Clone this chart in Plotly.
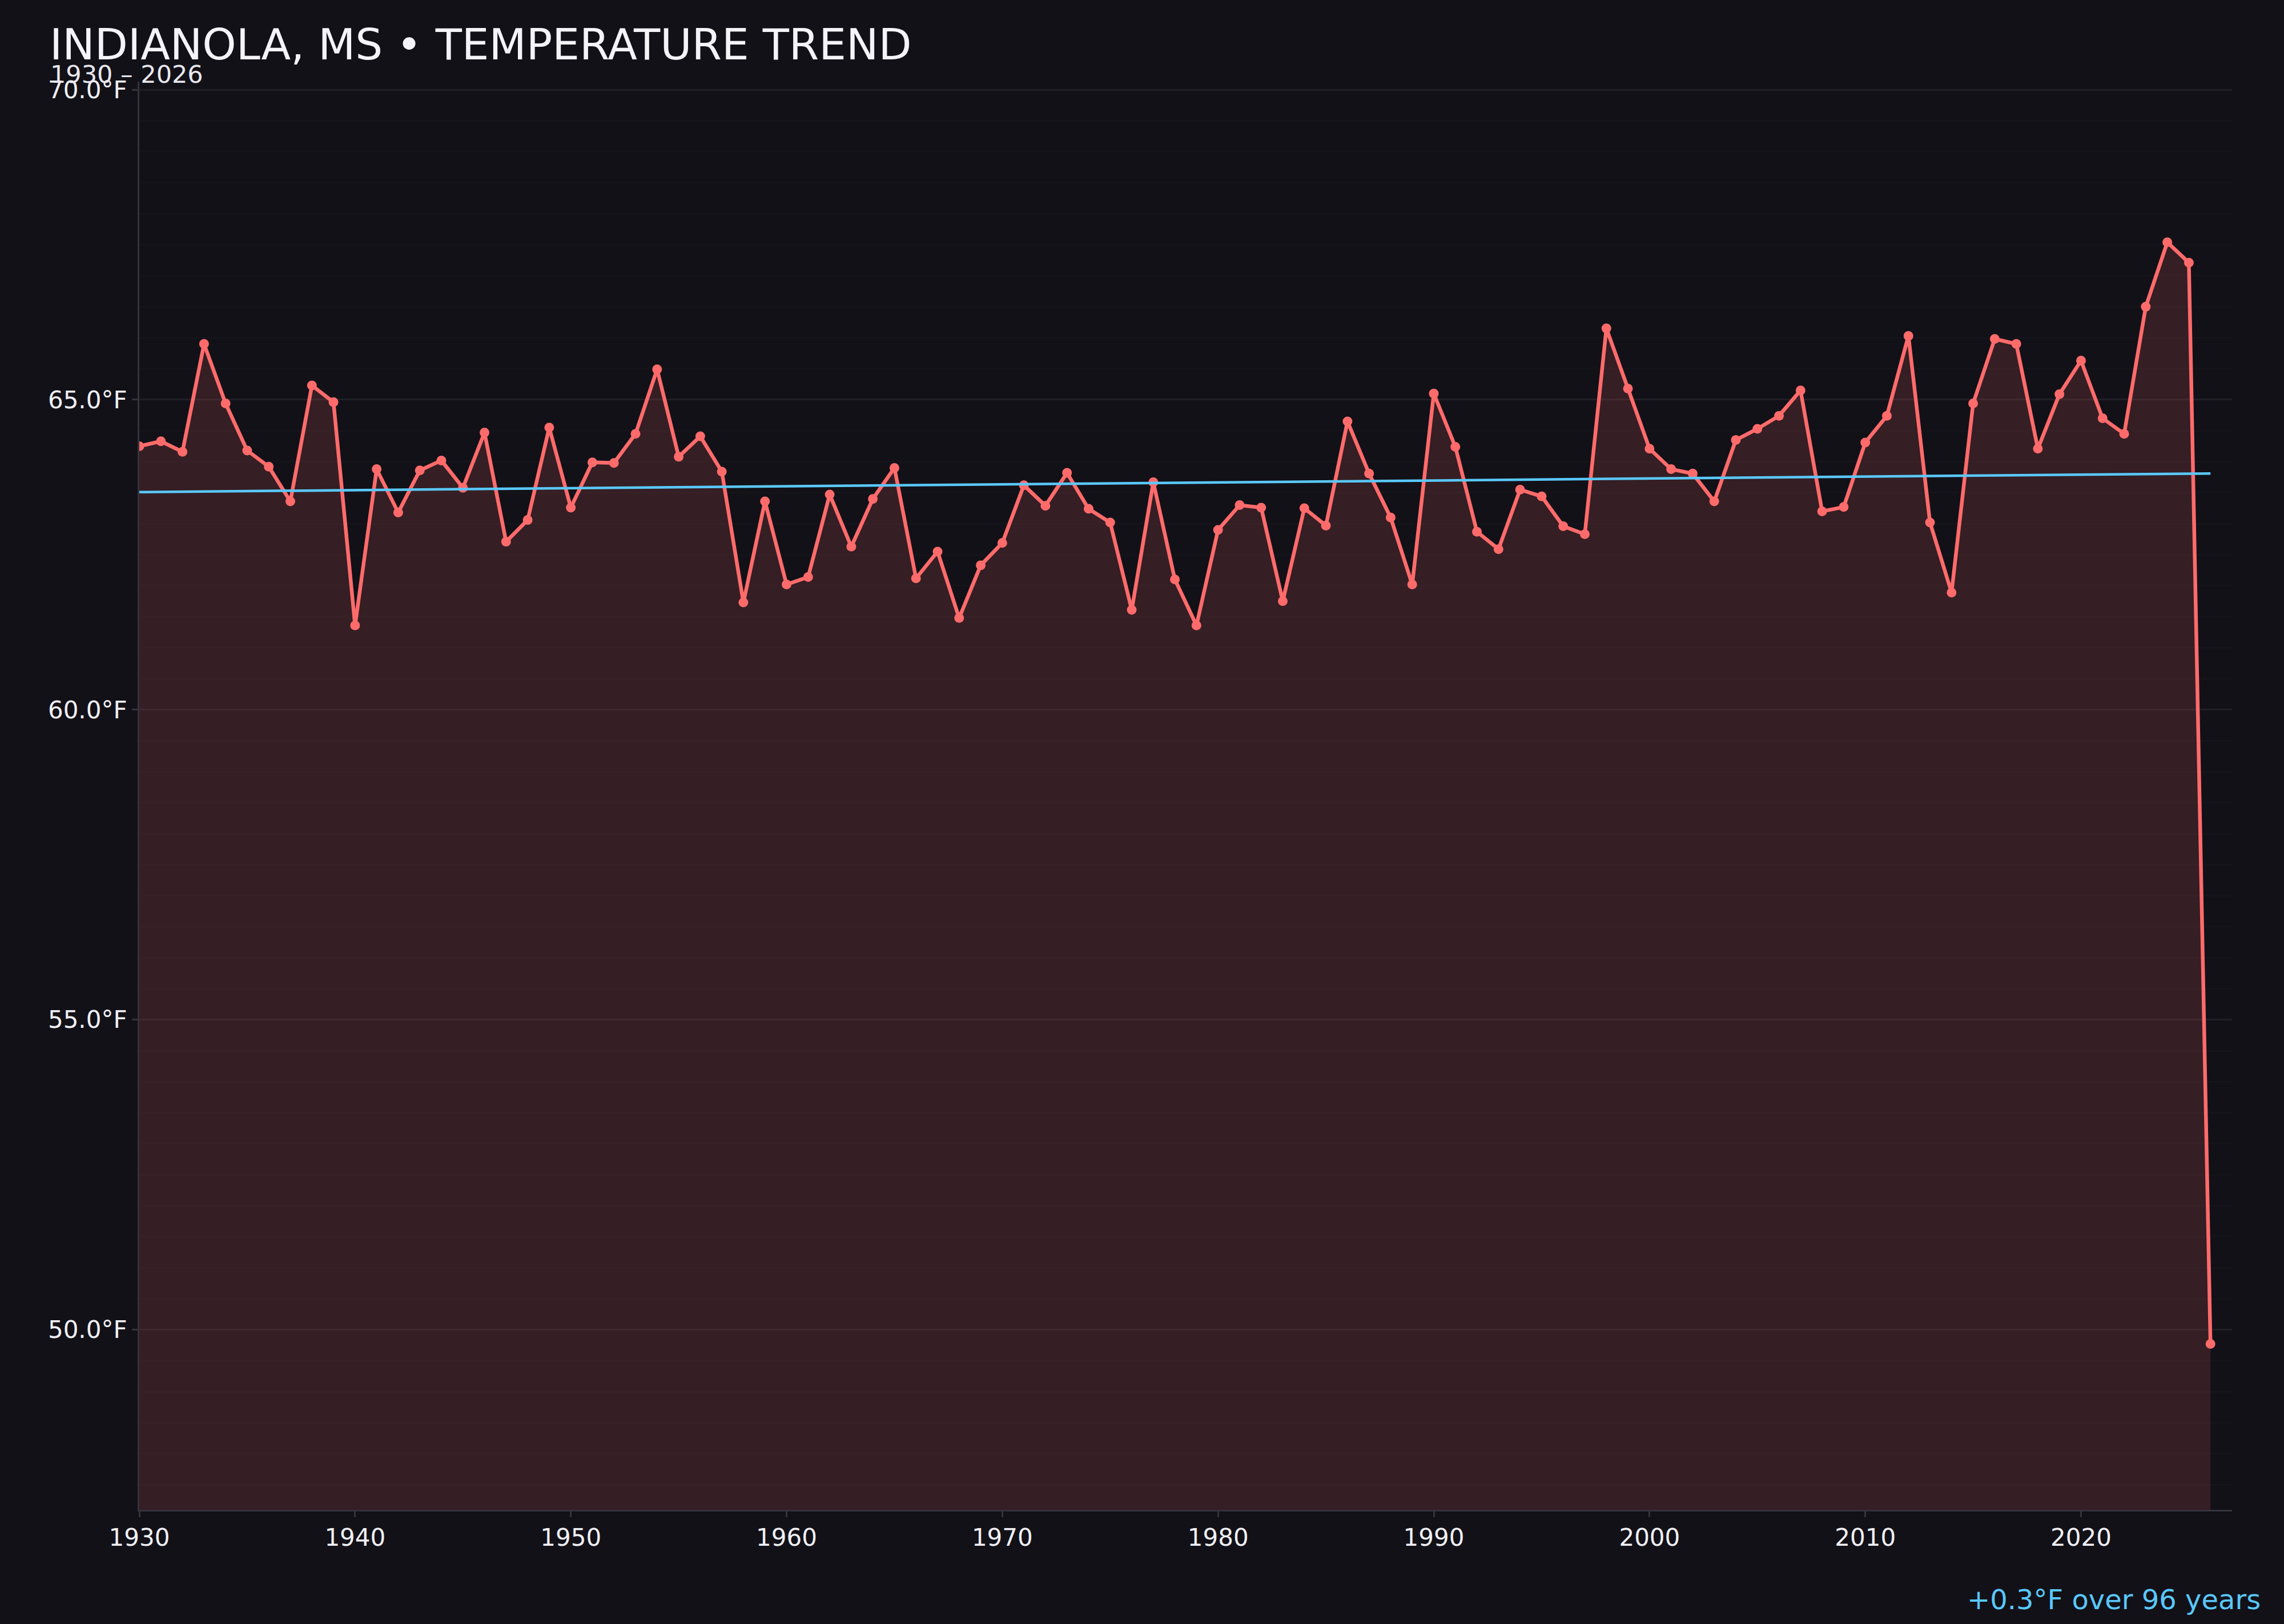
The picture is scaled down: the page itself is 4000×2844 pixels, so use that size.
import plotly.graph_objects as go

# yearly mean temperature, Indianola MS
years = list(range(1930, 2027))
temps = [
    64.25, 64.33, 64.16, 65.90, 64.94, 64.18, 63.92, 63.36, 65.23, 64.96,  # 1930s
    61.36, 63.88, 63.18, 63.86, 64.02, 63.58, 64.47, 62.71, 63.06, 64.55,  # 1940s
    63.26, 63.99, 63.98, 64.45, 65.49, 64.08, 64.41, 63.84, 61.73, 63.36,  # 1950s
    62.02, 62.14, 63.47, 62.63, 63.40, 63.90, 62.12, 62.55, 61.48, 62.33,  # 1960s
    62.69, 63.62, 63.29, 63.82, 63.24, 63.02, 61.61, 63.67, 62.10, 61.36,  # 1970s
    62.90, 63.30, 63.26, 61.75, 63.25, 62.97, 64.65, 63.81, 63.10, 62.02,  # 1980s
    65.10, 64.24, 62.87, 62.59, 63.55, 63.44, 62.96, 62.83, 66.15, 65.18,  # 1990s
    64.21, 63.88, 63.81, 63.36, 64.35, 64.53, 64.74, 65.15, 63.20, 63.27,  # 2000s
    64.31, 64.74, 66.03, 63.02, 61.89, 64.94, 65.98, 65.90, 64.21, 65.09,  # 2010s
    65.63, 64.70, 64.45, 66.50, 67.54, 67.21, 49.77,                       # 2020s
]

# linear trend endpoints
trend_years = [1930, 2026]
trend_vals = [63.51, 63.81]

title_text = "INDIANOLA, MS • TEMPERATURE TREND"
subtitle_text = "1930 – 2026"
trend_text = "+0.3°F over 96 years"

BG = "#121118"
RED = "#ff6b6b"
BLUE = "#5ac8fa"
FONT = "DejaVu Sans"

fig = go.Figure()

fig.add_trace(go.Scatter(
    x=years, y=temps,
    mode="lines+markers",
    line=dict(color=RED, width=6.5),
    marker=dict(color=RED, size=17),
    fill="tozeroy",
    fillcolor="rgba(255,107,107,0.15)",
    showlegend=False,
))

fig.add_trace(go.Scatter(
    x=trend_years, y=trend_vals,
    mode="lines",
    line=dict(color=BLUE, width=4.5),
    showlegend=False,
))

fig.update_layout(
    width=4000, height=2844,
    paper_bgcolor=BG, plot_bgcolor=BG,
    font=dict(family=FONT, color="#f0f0f4", size=42),
    margin=dict(l=244, r=91, t=143, b=200),
    showlegend=False,
)

fig.update_xaxes(
    range=[1930, 2027],
    tickmode="linear", tick0=1930, dtick=10,
    showgrid=False, zeroline=False,
    showline=True, linecolor="#33333d", linewidth=3,
    ticks="outside", ticklen=10, tickwidth=3, tickcolor="#33333d",
    tickfont=dict(size=42, color="#f0f0f4"),
)

fig.update_yaxes(
    range=[47.095, 70.13],
    tickmode="linear", tick0=50, dtick=5,
    tickformat=".1f", ticksuffix="°F",
    showgrid=True, gridcolor="rgba(255,255,255,0.06)", gridwidth=3,
    minor=dict(dtick=0.5, showgrid=True, gridcolor="rgba(255,255,255,0.014)", gridwidth=3),
    zeroline=False,
    showline=True, linecolor="#33333d", linewidth=3,
    ticks="outside", ticklen=10, tickwidth=3, tickcolor="#33333d",
    tickfont=dict(size=42, color="#f0f0f4"),
)

fig.add_annotation(
    text=title_text, xref="paper", yref="paper",
    x=-0.0434, y=1.0258, xanchor="left", yanchor="middle",
    showarrow=False, font=dict(size=75.5, color="#f4f4f8"),
)
fig.add_annotation(
    text=subtitle_text, xref="paper", yref="paper",
    x=-0.043, y=1.005, xanchor="left", yanchor="middle",
    showarrow=False, font=dict(size=43, color="#e8e8ee"),
)
fig.add_annotation(
    text=trend_text, xref="paper", yref="paper",
    x=1.0142, y=-0.0626, xanchor="right", yanchor="middle",
    showarrow=False, font=dict(size=48, color=BLUE),
)

# drop the default page margin so the 4000x2844 figure fills the window
fig.write_html("out.html", config={"displayModeBar": False},
               post_script="document.body.style.margin='0';")
